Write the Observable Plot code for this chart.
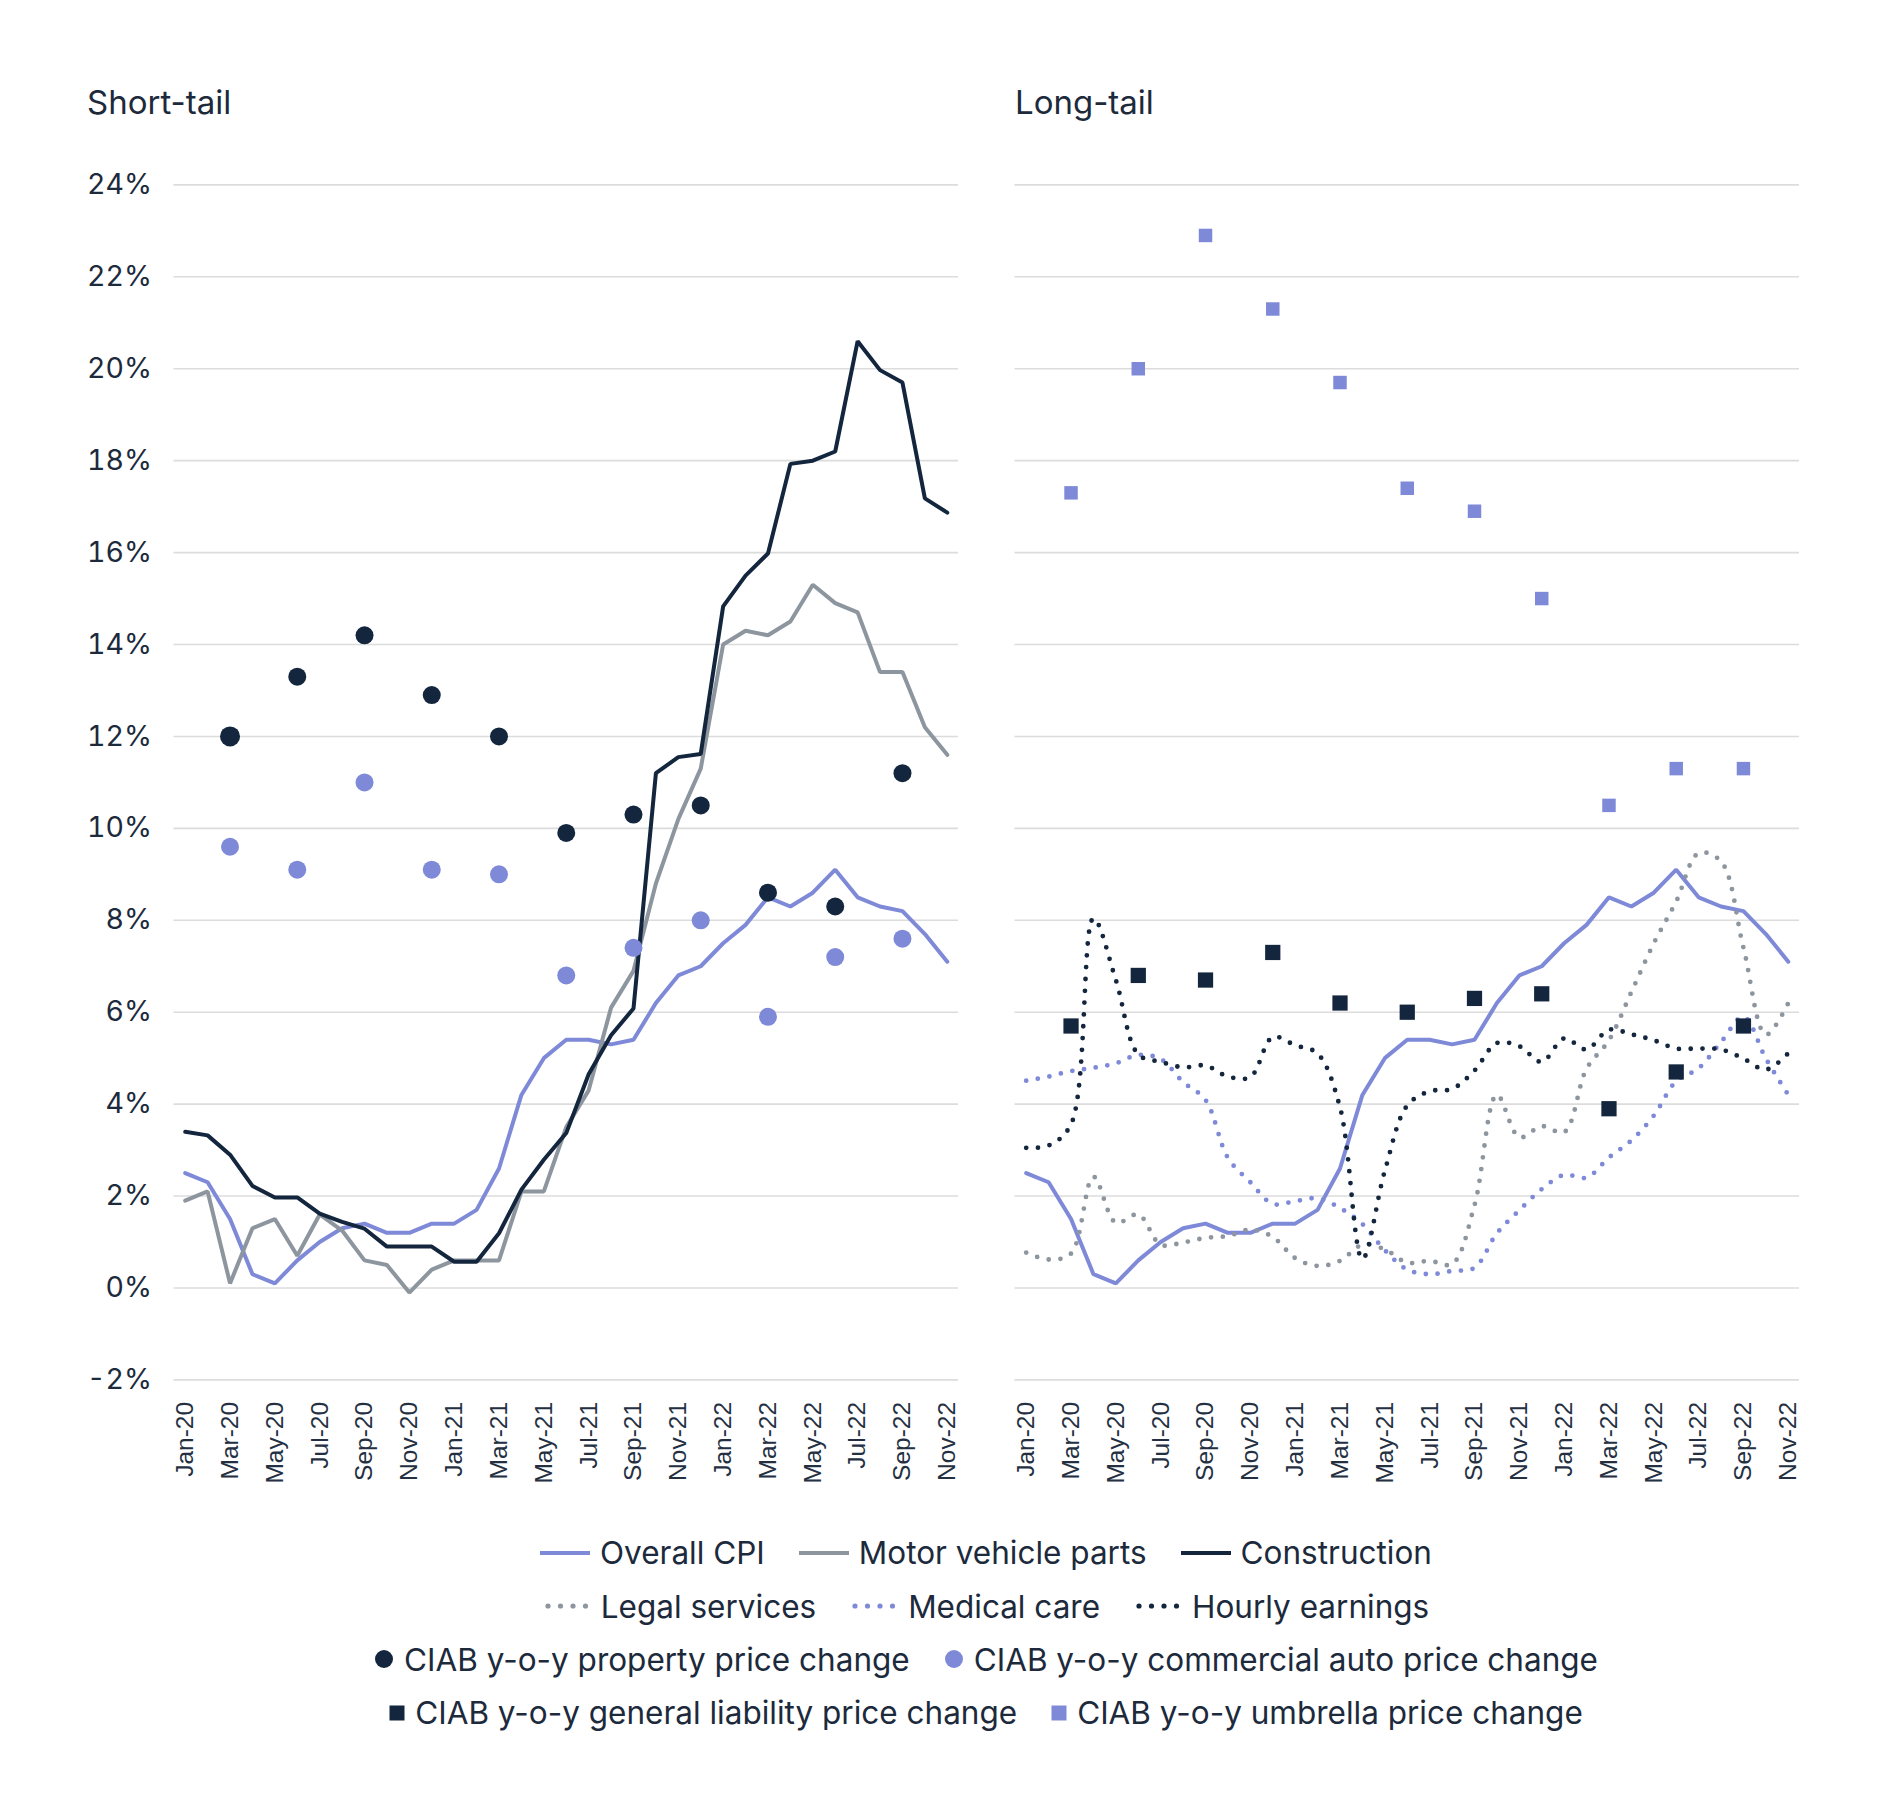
<!DOCTYPE html>
<html>
<head>
<meta charset="utf-8">
<script src="https://cdn.jsdelivr.net/npm/d3@7"></script>
<script src="https://cdn.jsdelivr.net/npm/@observablehq/plot@0.6"></script>
<style>
  body { margin: 0; background: #fff; }
  #wrap { position: relative; width: 1884px; height: 1817px; background: #fff; overflow: hidden;
          font-family: Inter, "Noto Sans", sans-serif; color: #1c2a3c; }
  #left { position: absolute; left: 0; top: 0; }
  #right { position: absolute; left: 980px; top: 0; }
  #legend { position: absolute; left: 186px; width: 1600px; top: 1526px; }
  .row { display: flex; justify-content: center; align-items: center; height: 53.4px; gap: 34px; }
  .item { display: flex; align-items: center; font-size: 31.5px; letter-spacing: 0px; white-space: nowrap; }
  .item svg { margin-right: 10px; display: block; }
</style>
</head>
<body>
<div id="wrap">
  <div id="left"></div>
  <div id="right"></div>
  <div id="legend"></div>
</div>
<script>
// ---------------- data ----------------
const months = ["Jan-20","Feb-20","Mar-20","Apr-20","May-20","Jun-20","Jul-20","Aug-20","Sep-20","Oct-20","Nov-20","Dec-20",
                "Jan-21","Feb-21","Mar-21","Apr-21","May-21","Jun-21","Jul-21","Aug-21","Sep-21","Oct-21","Nov-21","Dec-21",
                "Jan-22","Feb-22","Mar-22","Apr-22","May-22","Jun-22","Jul-22","Aug-22","Sep-22","Oct-22","Nov-22"];
const xTickLabels = ["Jan-20","Mar-20","May-20","Jul-20","Sep-20","Nov-20","Jan-21","Mar-21","May-21","Jul-21","Sep-21","Nov-21",
                     "Jan-22","Mar-22","May-22","Jul-22","Sep-22","Nov-22"];
const yTicks = [-2, 0, 2, 4, 6, 8, 10, 12, 14, 16, 18, 20, 22, 24];

const overallCPI = [2.5,2.3,1.5,0.3,0.1,0.6,1.0,1.3,1.4,1.2,1.2,1.4,1.4,1.7,2.6,4.2,5.0,5.4,5.4,5.3,5.4,6.2,6.8,7.0,
                    7.5,7.9,8.5,8.3,8.6,9.1,8.5,8.3,8.2,7.7,7.1];
const motorVehicleParts = [1.9,2.1,0.1,1.3,1.5,0.7,1.6,1.25,0.6,0.5,-0.1,0.4,0.6,0.6,0.6,2.1,2.1,3.5,4.3,6.1,6.9,8.8,10.2,11.3,
                           14.0,14.3,14.2,14.5,15.3,14.9,14.7,13.4,13.4,12.2,11.6];
const construction = [3.4,3.32,2.9,2.22,1.97,1.97,1.62,1.44,1.29,0.9,0.9,0.9,0.57,0.57,1.19,2.14,2.79,3.37,4.65,5.5,6.08,11.2,11.55,11.62,
                      14.83,15.5,15.98,17.93,18.0,18.2,20.6,19.97,19.7,17.18,16.87];
const legalServices = [0.77,0.62,0.75,2.42,1.42,1.6,0.94,0.99,1.09,1.13,1.27,1.11,0.65,0.48,0.59,0.94,0.84,0.55,0.59,0.52,1.8,4.2,3.28,3.52,
                       3.39,4.77,5.39,6.44,7.5,8.41,9.46,9.28,7.4,5.51,6.2];
const medicalCare = [4.51,4.6,4.72,4.79,4.89,5.07,4.98,4.48,4.09,2.83,2.3,1.83,1.89,1.95,1.74,1.39,0.82,0.4,0.3,0.37,0.44,1.19,1.69,2.15,
                     2.46,2.4,2.84,3.21,3.75,4.5,4.78,5.35,5.9,4.99,4.2];
const hourlyEarnings = [3.05,3.1,3.56,8.04,6.7,5.08,4.92,4.8,4.84,4.6,4.59,5.46,5.28,5.1,3.93,0.63,2.55,3.97,4.28,4.33,4.73,5.33,5.26,4.92,
                        5.43,5.19,5.62,5.52,5.39,5.21,5.21,5.19,4.99,4.75,5.11];

const quarters = ["Mar-20","Jun-20","Sep-20","Dec-20","Mar-21","Jun-21","Sep-21","Dec-21","Mar-22","Jun-22","Sep-22"];
const propertyChange = [12.0,13.3,14.2,12.9,12.0,9.9,10.3,10.5,8.6,8.3,11.2];
const commercialAutoChange = [9.6,9.1,11.0,9.1,9.0,6.8,7.4,8.0,5.9,7.2,7.6];
const generalLiabilityChange = [5.7,6.8,6.7,7.3,6.2,6.0,6.3,6.4,3.9,4.7,5.7];
const umbrellaChange = [17.3,20.0,22.9,21.3,19.7,17.4,16.9,15.0,10.5,11.3,11.3];

const panelTitles = ["Short-tail", "Long-tail"];

// ---------------- style ----------------
const NAVY = "#13263d", PERI = "#7e89d8", GRAY = "#8d959e", GRID = "#dcdcdc", TEXT = "#1c2a3c";

const rows = (vals, xs) => vals.map((v, i) => ({m: xs[i], v}));

function basePlot(o) {
  return {
    width: o.width, height: 1500,
    marginLeft: o.ml, marginRight: o.mr, marginTop: 184.4, marginBottom: 1500 - 1379.4,
    x: {type: "point", domain: months, padding: 0.5, round: false, axis: null},
    y: {domain: [-2, 24], axis: null},
    r: {type: "identity"},
    style: {fontFamily: "Inter, 'Noto Sans', sans-serif", color: TEXT, background: "transparent", overflow: "visible"},
  };
}

const solid = (vals, color) => Plot.line(rows(vals, months), {x: "m", y: "v", stroke: color, strokeWidth: 4, strokeLinejoin: "miter"});
const dotted = (vals, color) => Plot.line(rows(vals, months), {x: "m", y: "v", stroke: color, strokeWidth: 4.8,
  strokeDasharray: "0 11.8", strokeLinecap: "round", curve: "catmull-rom"});

const xAxis = Plot.axisX(xTickLabels, {tickSize: 0, tickRotate: -90, tickPadding: 22, fontSize: 24.5,
  fontFamily: "'Liberation Sans', Arial, sans-serif", fill: "#243042", label: null});
const grid = Plot.gridY(yTicks, {stroke: GRID, strokeOpacity: 1, strokeWidth: 1.6});

// ---------------- left panel ----------------
const left = Plot.plot({
  ...basePlot({width: 980, ml: 173.5, mr: 22}),
  marks: [
    grid,
    Plot.axisY(yTicks, {tickSize: 0, tickPadding: 22, tickFormat: d => d + "%", fontSize: 28.5, fill: TEXT, label: null}),
    xAxis,
    solid(overallCPI, PERI),
    solid(motorVehicleParts, GRAY),
    solid(construction, NAVY),
    Plot.dot(rows(propertyChange, quarters), {x: "m", y: "v", fill: NAVY, r: (d, i) => i === 0 ? 10 : 9}),
    Plot.dot(rows(commercialAutoChange, quarters), {x: "m", y: "v", fill: PERI, r: 9}),
    Plot.text([panelTitles[0]], {frameAnchor: "top-left", dx: -87, dy: -70.4, textAnchor: "start", lineAnchor: "bottom",
      fontSize: 33, fill: TEXT})
  ]
});
document.getElementById("left").appendChild(left);

// ---------------- right panel ----------------
const right = Plot.plot({
  ...basePlot({width: 904, ml: 34.5, mr: 85}),
  marks: [
    grid,
    xAxis,
    solid(overallCPI, PERI),
    dotted(legalServices, GRAY),
    dotted(medicalCare, PERI),
    dotted(hourlyEarnings, NAVY),
    Plot.dot(rows(generalLiabilityChange, quarters), {x: "m", y: "v", fill: NAVY, symbol: "square", r: 8.6}),
    Plot.dot(rows(umbrellaChange, quarters), {x: "m", y: "v", fill: PERI, symbol: "square", r: 7.6}),
    Plot.text([panelTitles[1]], {frameAnchor: "top-left", dx: 0, dy: -70.4, textAnchor: "start", lineAnchor: "bottom",
      fontSize: 33, fill: TEXT})
  ]
});
document.getElementById("right").appendChild(right);

// ---------------- legend ----------------
const legendRows = [
  [["line", PERI, "Overall CPI"], ["line", GRAY, "Motor vehicle parts"], ["line", NAVY, "Construction"]],
  [["dots", GRAY, "Legal services"], ["dots", PERI, "Medical care"], ["dots", NAVY, "Hourly earnings"]],
  [["circle", NAVY, "CIAB y-o-y property price change"], ["circle", PERI, "CIAB y-o-y commercial auto price change"]],
  [["square", NAVY, "CIAB y-o-y general liability price change"], ["square", PERI, "CIAB y-o-y umbrella price change"]]
];
function swatch(kind, color) {
  const ns = "http://www.w3.org/2000/svg";
  const s = document.createElementNS(ns, "svg");
  const add = (tag, attrs) => { const e = document.createElementNS(ns, tag); for (const k in attrs) e.setAttribute(k, attrs[k]); s.appendChild(e); };
  if (kind === "line") { s.setAttribute("width", 50); s.setAttribute("height", 10); add("line", {x1: 0, x2: 50, y1: 5, y2: 5, stroke: color, "stroke-width": 4}); }
  if (kind === "dots") { s.setAttribute("width", 48); s.setAttribute("height", 10); for (let i = 0; i < 4; i++) add("circle", {cx: 5 + i * 12.5, cy: 5, r: 2.6, fill: color}); }
  if (kind === "circle") { s.setAttribute("width", 20); s.setAttribute("height", 20); add("circle", {cx: 10, cy: 10, r: 9, fill: color}); }
  if (kind === "square") { s.setAttribute("width", 16); s.setAttribute("height", 16); add("rect", {x: 0.5, y: 0.5, width: 15, height: 15, fill: color}); }
  return s;
}
const legend = document.getElementById("legend");
for (const r of legendRows) {
  const row = document.createElement("div"); row.className = "row";
  for (const [kind, color, label] of r) {
    const it = document.createElement("div"); it.className = "item";
    it.appendChild(swatch(kind, color));
    const t = document.createElement("span"); t.textContent = label; it.appendChild(t);
    row.appendChild(it);
  }
  legend.appendChild(row);
}
</script>
</body>
</html>
